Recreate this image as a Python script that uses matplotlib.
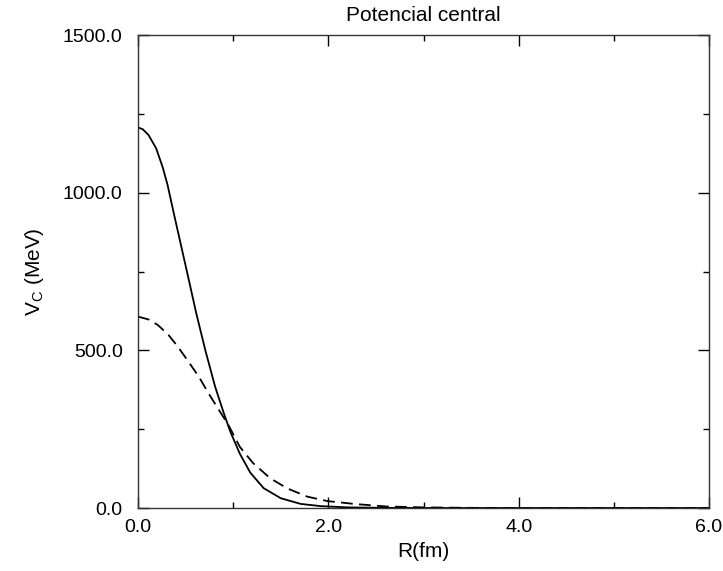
import numpy as np
import matplotlib
matplotlib.use('Agg')
import matplotlib.pyplot as plt
from matplotlib.ticker import MultipleLocator, FormatStrFormatter

# values (R in fm, V in MeV)
r_solid = [0.0, 0.05, 0.11, 0.19, 0.26, 0.31, 0.38, 0.46, 0.54, 0.61,
           0.71, 0.81, 0.90, 0.97, 1.07, 1.18, 1.32, 1.50, 1.71, 1.92,
           2.2, 2.6, 3.0, 4.0, 5.0, 6.0]
v_solid = [1207, 1201, 1183, 1141, 1080, 1025, 929, 822, 715, 620,
           497, 385, 302, 242, 172, 112, 63, 31, 13, 6,
           2, 0.5, 0.0, 0.0, 0.0, 0.0]

r_dash = [0.0, 0.11, 0.21, 0.32, 0.42, 0.53, 0.64, 0.74, 0.85, 0.95,
          1.07, 1.21, 1.39, 1.57, 1.78, 1.99, 2.27, 2.6, 3.0, 3.5,
          4.0, 5.0, 6.0]
v_dash = [607, 598, 580, 549, 511, 464, 416, 364, 311, 263,
          194, 142, 94, 62, 36, 22, 13, 5, 2, 0.5,
          0.0, 0.0, 0.0]

plt.rcParams['font.family'] = ['Liberation Sans', 'DejaVu Sans']

fig = plt.figure(figsize=(7.23, 5.71), dpi=100)
ax = fig.add_axes([0.1909, 0.1103, 0.7898, 0.8284])

ax.plot(r_solid, v_solid, color='black', lw=1.3)
ax.plot(r_dash, v_dash, color='black', lw=1.3, dashes=(6.5, 3.5))

ax.set_xlim(0, 6)
ax.set_ylim(0, 1500)
ax.xaxis.set_major_locator(MultipleLocator(2))
ax.xaxis.set_minor_locator(MultipleLocator(1))
ax.yaxis.set_major_locator(MultipleLocator(500))
ax.yaxis.set_minor_locator(MultipleLocator(250))
ax.xaxis.set_major_formatter(FormatStrFormatter('%.1f'))
ax.yaxis.set_major_formatter(FormatStrFormatter('%.1f'))

ax.tick_params(which='both', direction='in', top=True, right=True, width=1.0)
ax.tick_params(which='major', length=8, labelsize=14)
ax.tick_params(axis='x', which='major', pad=8)
ax.tick_params(axis='y', which='major', pad=11)
ax.tick_params(which='minor', length=4)
for s in ax.spines.values():
    s.set_linewidth(1.0)
    s.set_color('#333333')

ax.set_title('Potencial central', fontsize=15, pad=10)
ax.set_xlabel('R(fm)', fontsize=15, labelpad=4)
ax.set_ylabel(r'V$_\mathregular{C}$ (MeV)', fontsize=15, labelpad=12)

fig.savefig('out.png', dpi=100)
